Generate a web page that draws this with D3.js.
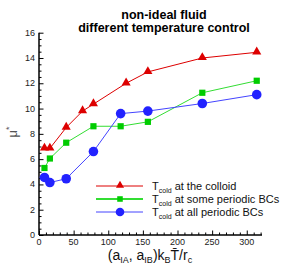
<!DOCTYPE html>
<html>
<head>
<meta charset="utf-8">
<script src="https://cdn.jsdelivr.net/npm/d3@7"></script>
<style>
body { margin: 0; background: #fff; }
text { font-family: "Liberation Sans", Arial, sans-serif; }
</style>
</head>
<body>
<div id="chart"></div>
<script>
// data
var xColloid = [7.9, 15.7, 39.3, 62.9, 78.6, 125.8, 157.2, 235.8, 314.4];
var muColloid = [6.85, 6.85, 8.5, 9.8, 10.35, 12.0, 12.9, 14.0, 14.45];

var xSome = [7.9, 15.7, 39.3, 78.6, 117.9, 157.2, 235.8, 314.4];
var muSome = [5.3, 6.05, 7.3, 8.6, 8.6, 8.95, 11.25, 12.2];

var xAll = [7.9, 15.7, 39.3, 78.6, 117.9, 157.2, 235.8, 314.4];
var muAll = [4.55, 4.15, 4.45, 6.6, 9.6, 9.8, 10.4, 11.1];

var legendLabels = [" at the colloid", " at some periodic BCs", " at all periodic BCs"];
var xTicks = [0, 50, 100, 150, 200, 250, 300];
var yTicks = [0, 2, 4, 6, 8, 10, 12, 14, 16];

var width = 298, height = 265;

var svg = d3.select("#chart").append("svg")
	.attr("width", width)
	.attr("height", height);

var x = d3.scaleLinear().domain([0, 322]).range([39, 262]);
var y = d3.scaleLinear().domain([0, 16]).range([235, 32.7]);

// title
svg.append("text").attr("x", 164).attr("y", 19)
	.attr("text-anchor", "middle").style("font-size", "12.5px").style("font-weight", "bold")
	.text("non-ideal fluid");
svg.append("text").attr("x", 164).attr("y", 32)
	.attr("text-anchor", "middle").style("font-size", "12.5px").style("font-weight", "bold")
	.text("different temperature control");

// axes, ticks pointing inward
var gx = svg.append("g").attr("transform", "translate(0," + y(0) + ")");
gx.call(d3.axisBottom(x).tickValues(d3.range(0, 321, 10)).tickSize(-2.5).tickFormat(""));
gx.call(function(g) {
	g.selectAll(".tick line").filter(function(d) { return d % 50 == 0; }).attr("y2", -4.5);
	g.select(".domain").attr("stroke-width", 1.5).attr("d", "M" + x(0) + ",0H" + x(322));
});
gx.selectAll(".lbl").data(xTicks).enter().append("text")
	.attr("x", function(d) { return x(d); }).attr("y", 10)
	.attr("text-anchor", "middle").style("font-size", "9px").attr("fill", "#222")
	.text(function(d) { return d; });

var gy = svg.append("g").attr("transform", "translate(" + x(0) + ",0)");
gy.call(d3.axisLeft(y).tickValues(d3.range(0, 16.01, 0.5)).tickSize(-2.5).tickFormat(""));
gy.call(function(g) {
	g.selectAll(".tick line").filter(function(d) { return d % 2 == 0; }).attr("x2", 4.5);
	g.select(".domain").attr("stroke-width", 1.5).attr("d", "M0," + y(0) + "V" + y(16));
});
gy.selectAll(".lbl").data(yTicks).enter().append("text")
	.attr("x", -4).attr("y", function(d) { return y(d) + 3; })
	.attr("text-anchor", "end").style("font-size", "9px").attr("fill", "#222")
	.text(function(d) { return d; });

// axis labels
var yl = svg.append("text").attr("transform", "translate(17,132) rotate(-90)")
	.attr("text-anchor", "middle").style("font-size", "13px").attr("fill", "#555");
yl.append("tspan").text("μ");
yl.append("tspan").attr("dy", -5).style("font-size", "9px").text("*");

var xl = svg.append("text").attr("x", 150).attr("y", 260)
	.attr("text-anchor", "middle").style("font-size", "14px").attr("fill", "#111");
xl.append("tspan").text("(a");
xl.append("tspan").attr("dy", 2.5).style("font-size", "9px").text("IA");
xl.append("tspan").attr("dy", -2.5).text(", a");
xl.append("tspan").attr("dy", 2.5).style("font-size", "9px").text("IB");
xl.append("tspan").attr("dy", -2.5).text(")k");
xl.append("tspan").attr("dy", 2.5).style("font-size", "9px").text("B");
xl.append("tspan").attr("dy", -2.5).text("T\u0304/r");
xl.append("tspan").attr("dy", 2.5).style("font-size", "9px").text("c");

var series = [
	{ xs: xColloid, ys: muColloid, color: "#dd0000", shape: "tri" },
	{ xs: xSome, ys: muSome, color: "#00cc00", line: "#33dd33", shape: "sq" },
	{ xs: xAll, ys: muAll, color: "#2222ff", line: "#4444ff", shape: "circ" }
];

function marker(g, s, px, py, scale) {
	if (s.shape == "tri") {
		g.append("path").attr("d", d3.symbol(d3.symbolTriangle, 36 * scale)())
			.attr("transform", "translate(" + px + "," + (py - 0.5) + ")").attr("fill", s.color);
	} else if (s.shape == "sq") {
		var h = 3.1 * Math.sqrt(scale);
		g.append("rect").attr("x", px - h).attr("y", py - h).attr("width", 2 * h).attr("height", 2 * h)
			.attr("fill", s.color);
	} else {
		g.append("circle").attr("cx", px).attr("cy", py).attr("r", 4.8 * Math.sqrt(scale))
			.attr("fill", s.color);
	}
}

var line = d3.line().x(function(d) { return x(d[0]); }).y(function(d) { return y(d[1]); });

series.forEach(function(s) {
	var pts = d3.zip(s.xs, s.ys);
	svg.append("path").datum(pts).attr("d", line)
		.attr("fill", "none").attr("stroke", s.line || s.color).attr("stroke-width", 1);
	var g = svg.append("g");
	pts.forEach(function(p) { marker(g, s, x(p[0]), y(p[1]), 1); });
});

// legend
var legY = [186, 199, 212];
series.forEach(function(s, i) {
	var g = svg.append("g");
	g.append("line").attr("x1", 96).attr("x2", 143).attr("y1", legY[i]).attr("y2", legY[i])
		.attr("stroke", s.line || s.color).attr("stroke-width", i == 1 ? 2 : 1);
	marker(g, s, 120, legY[i], 0.8);
	var t = g.append("text").attr("x", 152).attr("y", legY[i] + 4).style("font-size", "11px").attr("fill", "#111");
	t.append("tspan").text("T");
	t.append("tspan").attr("dy", 3).style("font-size", "7px").text("cold");
	t.append("tspan").attr("dy", -3).text(legendLabels[i]);
});
</script>
</body>
</html>
